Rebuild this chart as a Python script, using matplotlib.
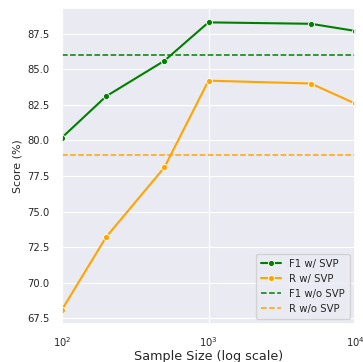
import matplotlib
matplotlib.use("Agg")
import matplotlib.pyplot as plt
import seaborn as sns

sample_sizes = [100, 200, 500, 1000, 5000, 10000]
f1_svp = [80.2, 83.1, 85.6, 88.3, 88.2, 87.7]
r_svp = [68.1, 73.2, 78.1, 84.2, 84.0, 82.6]
f1_base = 86.0
r_base = 79.0

sns.set_theme(style="darkgrid")
plt.rcParams.update({
    "font.family": ["DejaVu Sans"],
    "xtick.labelsize": 7.2, "ytick.labelsize": 7.2,
    "axes.labelsize": 7.9, "legend.fontsize": 7.3,
    "grid.linewidth": 0.8,
})

fig = plt.figure(figsize=(3.63, 3.62), dpi=100)
ax = fig.add_axes([62 / 363, 38 / 362, 293 / 363, 316 / 362])

ax.plot(sample_sizes, f1_svp, color="green", marker="o", markersize=4.4,
        markeredgecolor="white", markeredgewidth=0.6, linewidth=1.5, label="F1 w/ SVP")
ax.plot(sample_sizes, r_svp, color="orange", marker="o", markersize=4.4,
        markeredgecolor="white", markeredgewidth=0.6, linewidth=1.5, label="R w/ SVP")
ax.axhline(f1_base, color="green", linestyle="--", linewidth=1.1, label="F1 w/o SVP")
ax.axhline(r_base, color="orange", linestyle="--", linewidth=1.1, label="R w/o SVP")

ax.set_xscale("log")
ax.set_xlim(100, 10000)
ax.tick_params(axis="x", pad=2)
ax.tick_params(axis="y", pad=3)
ax.set_xlabel("Sample Size (log scale)", fontsize=9.2, labelpad=1)
ax.set_ylabel("Score (%)", labelpad=3)
ax.legend(loc="lower right", borderpad=0.5, handlelength=2.0)

fig.savefig("out.png", dpi=100)
